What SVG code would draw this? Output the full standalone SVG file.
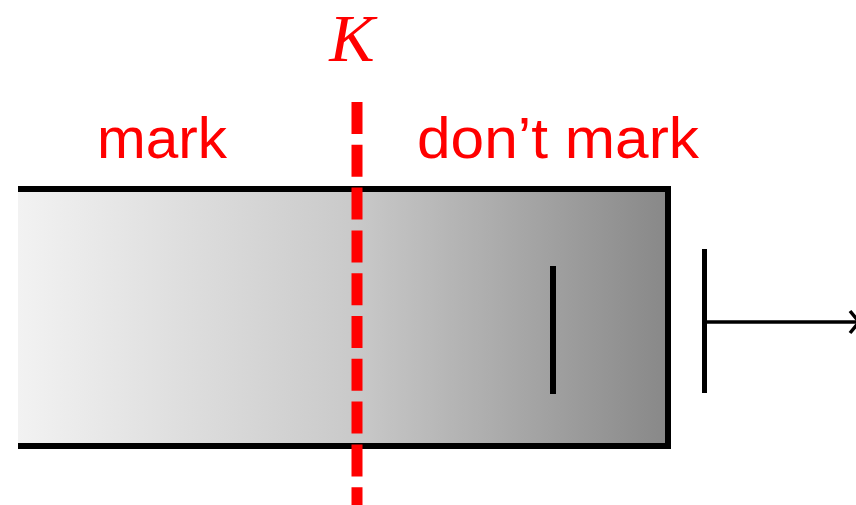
<svg xmlns="http://www.w3.org/2000/svg" width="856" height="505" viewBox="0 0 856 505">
  <style>
    .lbl { fill: #ff0000; font-family: "Liberation Sans", Arial, sans-serif; font-size: 58px; }
    .k { fill: #ff0000; font-family: "Liberation Serif", "Times New Roman", serif; font-style: italic; font-size: 68px; }
    .blk { stroke: #000; fill: none; }
  </style>
  <defs>
    <linearGradient id="g" x1="0" y1="0" x2="1" y2="0">
      <stop offset="0" stop-color="#f2f2f2"/>
      <stop offset="0.52" stop-color="#c9c9c9"/>
      <stop offset="1" stop-color="#888888"/>
    </linearGradient>
  </defs>
  <g id="bar">
    <rect x="18" y="189" width="650" height="257" fill="url(#g)"/>
    <path class="blk" d="M18 189 H668 V446 H18" stroke-width="6"/>
  </g>
  <g id="tick">
    <line class="blk" x1="553" y1="266" x2="553" y2="394" stroke-width="6"/>
  </g>
  <g id="threshold">
    <line x1="357" y1="102" x2="357" y2="505" stroke="#ff0000" stroke-width="11" stroke-dasharray="32 10.8"/>
    <text class="k" x="352" y="61" text-anchor="middle">K</text>
  </g>
  <g id="labels">
    <text class="lbl" x="97" y="158" textLength="130" lengthAdjust="spacingAndGlyphs">mark</text>
    <text class="lbl" x="417" y="158" textLength="282" lengthAdjust="spacingAndGlyphs">don’t mark</text>
  </g>
  <g id="connectors">
    <line class="blk" x1="704.5" y1="249" x2="704.5" y2="393" stroke-width="5"/>
    <line class="blk" x1="704" y1="322" x2="857" y2="322" stroke-width="3.5"/>
    <path class="blk" d="M850 311 L859 322 L850 333" stroke-width="3.5"/>
  </g>
</svg>
